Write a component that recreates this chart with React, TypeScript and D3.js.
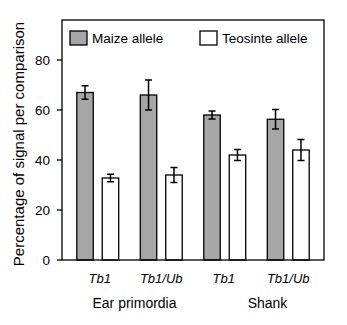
import React from "react";
import * as d3 from "d3";

const groups = ["Tb1 ear", "Tb1/Ub ear", "Tb1 shank", "Tb1/Ub shank"];
const groupLabels = ["Tb1", "Tb1/Ub", "Tb1", "Tb1/Ub"];
const alleles = ["Maize allele", "Teosinte allele"];
const maizeValues = [67, 66, 58, 56.3];
const maizeErrors = [2.7, 6, 1.6, 3.9];
const teosinteValues = [32.8, 34, 42, 44];
const teosinteErrors = [1.5, 3, 2.2, 4.2];
const yTicks = [0, 20, 40, 60, 80];
const tissues = ["Ear primordia", "Shank"];

const W = 347, H = 325;
const plot = { left: 62, right: 324, top: 20, bottom: 260 };
const FONT = "'Liberation Sans', Arial, Helvetica, sans-serif";
const tissueShift = [5, 11];
const labelShift = [2, 0, -1, 0];

export default function App() {
  const y = d3.scaleLinear().domain([0, 96]).range([plot.bottom, plot.top]);
  const x = d3.scaleBand<string>().domain(groups).range([plot.left + 4, plot.right - 4]).paddingInner(0).paddingOuter(0);
  const xs = d3.scaleBand<string>().domain(alleles).range([0, x.bandwidth()]).paddingInner(0.353).paddingOuter(0.424);
  const fills = ["#a6a6a6", "#ffffff"];
  const series = [
    { v: maizeValues, e: maizeErrors },
    { v: teosinteValues, e: teosinteErrors },
  ];
  const cap = 3.5;
  const tissueCenters = [
    ((x(groups[0])! + x(groups[1])! + x.bandwidth()) / 2),
    ((x(groups[2])! + x(groups[3])! + x.bandwidth()) / 2),
  ];
  return (
    <svg width={W} height={H} style={{ position: "absolute", left: 0, top: 0, background: "#fff" }} fontFamily={FONT}>
      <rect x={0} y={0} width={W} height={H} fill="#fff" />
      {groups.map((g, gi) =>
        series.map((s, si) => {
          const bx = x(g)! + xs(alleles[si])!;
          const bw = xs.bandwidth();
          const cx = bx + bw / 2;
          const v = s.v[gi], e = s.e[gi];
          return (
            <g key={g + si}>
              <rect x={bx} y={y(v)} width={bw} height={y(0) - y(v)} fill={fills[si]} stroke="#000" strokeWidth={1.3} />
              <line x1={cx} x2={cx} y1={y(v + e)} y2={y(v - e)} stroke="#000" strokeWidth={1.5} />
              <line x1={cx - cap} x2={cx + cap} y1={y(v + e)} y2={y(v + e)} stroke="#000" strokeWidth={1.5} />
              <line x1={cx - cap} x2={cx + cap} y1={y(v - e)} y2={y(v - e)} stroke="#000" strokeWidth={1.5} />
            </g>
          );
        })
      )}
      <rect x={plot.left} y={plot.top} width={plot.right - plot.left} height={plot.bottom - plot.top} fill="none" stroke="#000" strokeWidth={1.3} />
      {yTicks.map((t) => (
        <g key={t}>
          <line x1={plot.left - 5} x2={plot.left} y1={y(t)} y2={y(t)} stroke="#000" strokeWidth={1.3} />
          <text x={plot.left - 12} y={y(t)} dy="0.36em" textAnchor="end" fontSize={13.5}>{t}</text>
        </g>
      ))}
      <text transform={`translate(24,144) rotate(-90)`} textAnchor="middle" fontSize={15}>
        Percentage of signal per comparison
      </text>
      {alleles.map((a, i) => {
        const lx = i === 0 ? 70 : 200;
        return (
          <g key={a}>
            <rect x={lx} y={31} width={17} height={14} fill={fills[i]} stroke="#000" strokeWidth={1.3} />
            <text x={lx + 22} y={43} fontSize={13.5}>{a}</text>
          </g>
        );
      })}
      {groups.map((g, gi) => (
        <text key={g} x={x(g)! + x.bandwidth() / 2 + labelShift[gi]} y={283} textAnchor="middle" fontSize={13} fontStyle="italic">
          {groupLabels[gi]}
        </text>
      ))}
      {tissues.map((t, i) => (
        <text key={t} x={tissueCenters[i] + tissueShift[i]} y={308} textAnchor="middle" fontSize={14}>{t}</text>
      ))}
    </svg>
  );
}
